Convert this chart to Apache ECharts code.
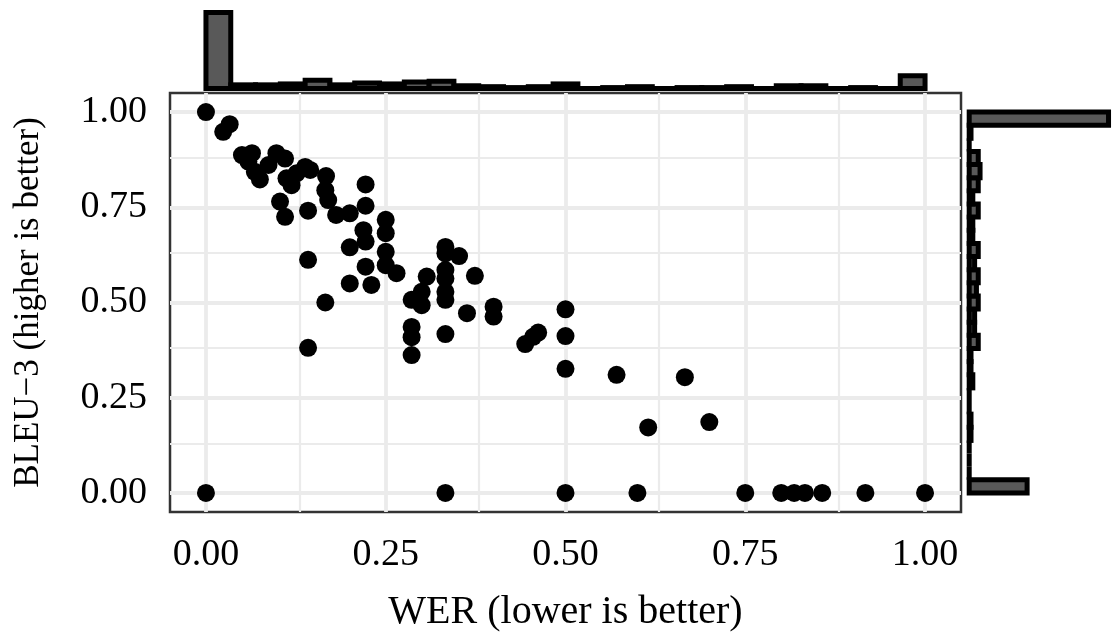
<!DOCTYPE html>
<html>
<head>
<meta charset="utf-8">
<script src="https://cdn.jsdelivr.net/npm/echarts@6/dist/echarts.min.js"></script>
<style>html,body{margin:0;padding:0;background:#fff}#c{width:1117px;height:639px}</style>
</head>
<body>
<div id="c"></div>
<script>
// ---- data ----
const werValues = [
  0, 0.024, 0.033, 0.050, 0.064, 0.059, 0.068, 0.075, 0.087, 0.098,
  0.110, 0.112, 0.119, 0.126, 0.138, 0.145, 0.167, 0.166, 0.170, 0.103,
  0.110, 0.142, 0.181, 0.200, 0.222, 0.222, 0.219, 0.222, 0.200, 0.142,
  0.222, 0.200, 0.230, 0.250, 0.250, 0.250, 0.250, 0.265, 0.166, 0.142,
  0.286, 0.300, 0.300, 0.307, 0.333, 0.333, 0.352, 0.333, 0.333, 0.333,
  0.333, 0.374, 0.363, 0.400, 0.400, 0.286, 0.286, 0.286, 0.333, 0.444,
  0.455, 0.462, 0.500, 0.500, 0.500, 0.571, 0.666, 0.615, 0.700,
  0, 0.333, 0.500, 0.600, 0.750, 0.800, 0.818, 0.833, 0.857, 0.917, 1
];
const bleuValues = [
  1, 0.948, 0.968, 0.887, 0.892, 0.870, 0.843, 0.823, 0.861, 0.892,
  0.878, 0.826, 0.808, 0.839, 0.856, 0.848, 0.832, 0.795, 0.769, 0.765,
  0.725, 0.741, 0.730, 0.734, 0.810, 0.754, 0.690, 0.660, 0.645, 0.612,
  0.594, 0.550, 0.546, 0.717, 0.682, 0.633, 0.598, 0.577, 0.500, 0.381,
  0.507, 0.528, 0.493, 0.568, 0.646, 0.629, 0.622, 0.585, 0.563, 0.528,
  0.507, 0.570, 0.472, 0.489, 0.463, 0.436, 0.409, 0.362, 0.417, 0.391,
  0.410, 0.421, 0.482, 0.412, 0.326, 0.310, 0.304, 0.172, 0.186,
  0, 0, 0, 0, 0, 0, 0, 0, 0, 0, 0
];
// number of identical (overplotted) observations at each point
const overlapCounts = [
  76, 1, 1, 1, 1, 1, 1, 1, 1, 1,
  1, 1, 1, 1, 1, 1, 1, 1, 1, 1,
  1, 1, 1, 1, 1, 1, 1, 1, 1, 1,
  1, 1, 1, 1, 1, 1, 1, 1, 1, 1,
  1, 1, 1, 1, 1, 1, 1, 1, 1, 1,
  1, 1, 1, 1, 1, 1, 1, 1, 1, 1,
  1, 1, 1, 1, 1, 1, 1, 1, 1,
  5, 1, 2, 1, 2, 2, 1, 2, 1, 1, 14
];
const tickValues = [0, 0.25, 0.5, 0.75, 1];
const minorGridValues = [0.125, 0.375, 0.625, 0.875];
const histBins = 29;
const xTitle = 'WER (lower is better)';
const yTitle = 'BLEU\u22123 (higher is better)';

// ---- histogram (marginal) from the data ----
function histogram(values) {
  const counts = new Array(histBins).fill(0);
  values.forEach((v, i) => {
    let k = Math.floor(v * histBins + 1e-9);
    if (k >= histBins) k = histBins - 1;
    if (k < 0) k = 0;
    counts[k] += overlapCounts[i];
  });
  return counts.map((c, k) => [k / histBins, (k + 1) / histBins, c]);
}
const werHist = histogram(werValues);
const bleuHist = histogram(bleuValues);
const werMax = Math.max(...werHist.map(d => d[2]));
const bleuMax = Math.max(...bleuHist.map(d => d[2]));

const FONT = 'Liberation Serif';
const BAR_FILL = '#595959';
const BAR_STROKE = '#000000';

const chart = echarts.init(document.getElementById('c'), null, {renderer: 'canvas'});

const gridLines = [];
tickValues.forEach(v => {
  gridLines.push({xAxis: v, lineStyle: {width: 3.8}});
  gridLines.push({yAxis: v, lineStyle: {width: 3.8}});
});
minorGridValues.forEach(v => {
  gridLines.push({xAxis: v, lineStyle: {width: 2.2}});
  gridLines.push({yAxis: v, lineStyle: {width: 2.2}});
});

chart.setOption({
  animation: false,
  backgroundColor: '#ffffff',
  grid: [
    {left: 170, top: 93, width: 791, height: 419, show: true, borderColor: '#333333', borderWidth: 2.5, backgroundColor: '#ffffff', containLabel: false},
    {left: 170, top: 8.7, width: 791, height: 79.8, show: false},
    {left: 969.2, top: 93, width: 146.3, height: 419, show: false}
  ],
  xAxis: [
    {
      gridIndex: 0, type: 'value', min: -0.05, max: 1.05,
      axisLine: {show: false},
      axisTick: {show: true, customValues: tickValues, length: 5, lineStyle: {color: '#333333', width: 2}},
      axisLabel: {customValues: tickValues, formatter: v => v.toFixed(2), fontFamily: FONT, fontSize: 38, color: '#000', margin: 24},
      splitLine: {show: false},
      name: xTitle, nameLocation: 'middle', nameGap: 80,
      nameTextStyle: {fontFamily: FONT, fontSize: 40, color: '#000'}
    },
    {gridIndex: 1, type: 'value', min: -0.05, max: 1.05, show: false},
    {gridIndex: 2, type: 'value', min: 0, max: bleuMax * 1.05, show: false}
  ],
  yAxis: [
    {
      gridIndex: 0, type: 'value', min: -0.05, max: 1.05,
      axisLine: {show: false},
      axisTick: {show: true, customValues: tickValues, length: 5, lineStyle: {color: '#333333', width: 2}},
      axisLabel: {customValues: tickValues, formatter: v => v.toFixed(2), fontFamily: FONT, fontSize: 38, color: '#000', margin: 23},
      splitLine: {show: false},
      name: yTitle, nameLocation: 'middle', nameGap: 124, nameRotate: 90,
      nameTextStyle: {fontFamily: FONT, fontSize: 35, color: '#000'}
    },
    {gridIndex: 1, type: 'value', min: 0, max: werMax * 1.05, show: false},
    {gridIndex: 2, type: 'value', min: -0.05, max: 1.05, show: false}
  ],
  series: [
    {
      type: 'scatter', xAxisIndex: 0, yAxisIndex: 0, data: [], z: 1, silent: true,
      markLine: {
        z: 1, silent: true, symbol: 'none', animation: false,
        label: {show: false},
        lineStyle: {color: '#EBEBEB', type: 'solid', cap: 'butt'},
        emphasis: {disabled: true},
        data: gridLines
      }
    },
    {
      type: 'scatter', xAxisIndex: 0, yAxisIndex: 0, z: 5,
      symbol: 'circle', symbolSize: 18,
      itemStyle: {color: '#000000', opacity: 1},
      data: werValues.map((x, i) => [x, bleuValues[i]])
    },
    {
      type: 'custom', xAxisIndex: 1, yAxisIndex: 1, clip: false,
      encode: {x: [0, 1], y: 2},
      data: werHist,
      renderItem: function (params, api) {
        const a = api.coord([api.value(0), 0]);
        const b = api.coord([api.value(1), api.value(2)]);
        return {type: 'rect', shape: {x: a[0], y: b[1], width: b[0] - a[0], height: a[1] - b[1]},
          style: {fill: BAR_FILL, stroke: BAR_STROKE, lineWidth: 5}};
      }
    },
    {
      type: 'custom', xAxisIndex: 2, yAxisIndex: 2, clip: false,
      encode: {y: [0, 1], x: 2},
      data: bleuHist,
      renderItem: function (params, api) {
        const a = api.coord([0, api.value(0)]);
        const b = api.coord([api.value(2), api.value(1)]);
        return {type: 'rect', shape: {x: a[0], y: b[1], width: b[0] - a[0], height: a[1] - b[1]},
          style: {fill: BAR_FILL, stroke: BAR_STROKE, lineWidth: 5}};
      }
    }
  ]
});
</script>
</body>
</html>
